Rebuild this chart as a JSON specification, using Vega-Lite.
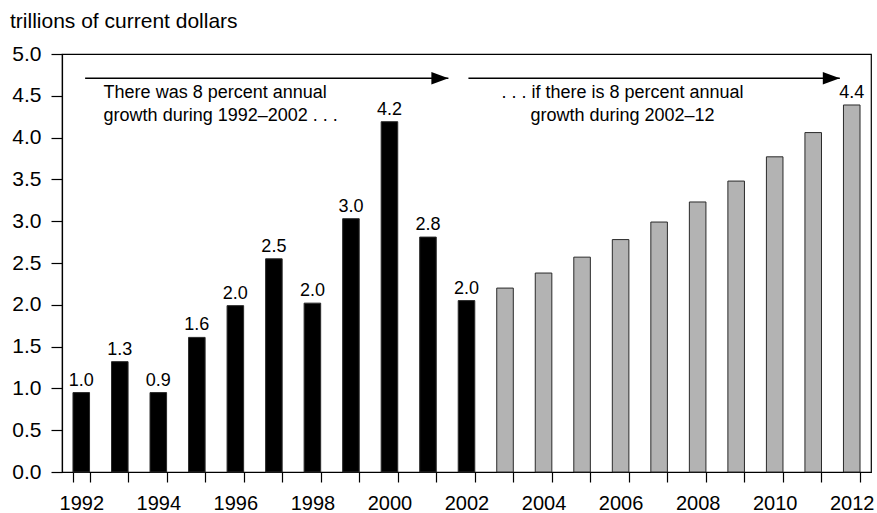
{
  "$schema": "https://vega.github.io/schema/vega-lite/v6.json",
  "width": 809,
  "height": 418,
  "autosize": {"type": "none"},
  "padding": {"left": 62, "top": 54, "right": 6, "bottom": 41},
  "title": {
    "text": "trillions of current dollars",
    "anchor": "start",
    "frame": "group",
    "dx": -52,
    "offset": -6,
    "baseline": "alphabetic",
    "fontSize": 21,
    "fontWeight": "normal",
    "color": "#000000"
  },
  "config": {
    "font": "Liberation Sans",
    "view": {"stroke": "#000000", "strokeWidth": 1.2},
    "axis": {
      "domainColor": "#000000",
      "domainWidth": 1.2,
      "tickColor": "#000000",
      "tickWidth": 1.2,
      "labelColor": "#000000",
      "labelFontSize": 21,
      "grid": false,
      "title": null
    }
  },
  "datasets": {
    "bars": [
      {"year": 1992, "value": 0.95, "period": "actual", "label": "1.0"},
      {"year": 1993, "value": 1.32, "period": "actual", "label": "1.3"},
      {"year": 1994, "value": 0.95, "period": "actual", "label": "0.9"},
      {"year": 1995, "value": 1.61, "period": "actual", "label": "1.6"},
      {"year": 1996, "value": 1.99, "period": "actual", "label": "2.0"},
      {"year": 1997, "value": 2.55, "period": "actual", "label": "2.5"},
      {"year": 1998, "value": 2.02, "period": "actual", "label": "2.0"},
      {"year": 1999, "value": 3.03, "period": "actual", "label": "3.0"},
      {"year": 2000, "value": 4.19, "period": "actual", "label": "4.2"},
      {"year": 2001, "value": 2.81, "period": "actual", "label": "2.8"},
      {"year": 2002, "value": 2.05, "period": "actual", "label": "2.0"},
      {"year": 2003, "value": 2.20, "period": "projected", "label": ""},
      {"year": 2004, "value": 2.38, "period": "projected", "label": ""},
      {"year": 2005, "value": 2.57, "period": "projected", "label": ""},
      {"year": 2006, "value": 2.78, "period": "projected", "label": ""},
      {"year": 2007, "value": 2.99, "period": "projected", "label": ""},
      {"year": 2008, "value": 3.23, "period": "projected", "label": ""},
      {"year": 2009, "value": 3.48, "period": "projected", "label": ""},
      {"year": 2010, "value": 3.77, "period": "projected", "label": ""},
      {"year": 2011, "value": 4.06, "period": "projected", "label": ""},
      {"year": 2012, "value": 4.39, "period": "projected", "label": "4.4"}
    ],
    "arrows": [
      {"start": 1992.10, "end": 2001.53, "level": 4.71},
      {"start": 2002.05, "end": 2011.69, "level": 4.71}
    ],
    "notes": [
      {"pos": 1992.58, "level": 4.47, "text": "There was 8 percent annual\ngrowth during 1992\u20132002 . . .", "side": "left"},
      {"pos": 2006.05, "level": 4.47, "text": ". . . if there is 8 percent annual\ngrowth during 2002\u201312", "side": "center"}
    ]
  },
  "layer": [
    {
      "data": {"name": "bars"},
      "layer": [
        {
          "mark": {"type": "bar", "stroke": "#2a2a2a", "strokeWidth": 1},
          "encoding": {
            "x": {
              "field": "year",
              "type": "ordinal",
              "scale": {"paddingInner": 0.57, "paddingOuter": 0.285},
              "axis": {
                "labelAngle": 0,
                "tickBand": "extent",
                "tickSize": 10,
                "labelPadding": 11,
                "labelFontSize": 20,
                "labelExpr": "datum.value % 2 == 0 ? datum.label : ''"
              }
            },
            "y": {
              "field": "value",
              "type": "quantitative",
              "scale": {"domain": [0, 5], "nice": false},
              "axis": {
                "values": [0, 0.5, 1, 1.5, 2, 2.5, 3, 3.5, 4, 4.5, 5],
                "format": ".1f",
                "tickSize": 11,
                "labelPadding": 10
              }
            },
            "fill": {
              "field": "period",
              "type": "nominal",
              "scale": {"domain": ["actual", "projected"], "range": ["#000000", "#b3b3b3"]},
              "legend": null
            }
          }
        },
        {
          "mark": {"type": "text", "baseline": "alphabetic", "dy": -7, "fontSize": 18, "color": "#000000"},
          "encoding": {
            "x": {"field": "year", "type": "ordinal"},
            "y": {"field": "value", "type": "quantitative"},
            "text": {"field": "label"}
          }
        }
      ]
    },
    {
      "data": {"name": "arrows"},
      "layer": [
        {
          "mark": {"type": "rule", "color": "#000000", "strokeWidth": 1.5},
          "encoding": {
            "x": {"field": "start", "type": "quantitative", "scale": {"domain": [1991.5, 2012.5], "nice": false, "zero": false}, "axis": null},
            "x2": {"field": "end"},
            "y": {"field": "level", "type": "quantitative"}
          }
        },
        {
          "mark": {"type": "point", "shape": "M-2,-0.74L0,0L-2,0.74Z", "size": 289, "filled": true, "color": "#000000", "opacity": 1},
          "encoding": {
            "x": {"field": "end", "type": "quantitative", "scale": {"domain": [1991.5, 2012.5], "nice": false, "zero": false}, "axis": null},
            "y": {"field": "level", "type": "quantitative"}
          }
        }
      ]
    },
    {
      "data": {"name": "notes"},
      "layer": [
        {
          "transform": [{"filter": "datum.side == 'left'"}],
          "mark": {"type": "text", "align": "left", "baseline": "alphabetic", "fontSize": 18, "lineHeight": 23, "lineBreak": "\n", "color": "#000000"},
          "encoding": {
            "x": {"field": "pos", "type": "quantitative", "scale": {"domain": [1991.5, 2012.5], "nice": false, "zero": false}, "axis": null},
            "y": {"field": "level", "type": "quantitative"},
            "text": {"field": "text"}
          }
        },
        {
          "transform": [{"filter": "datum.side == 'center'"}],
          "mark": {"type": "text", "align": "center", "baseline": "alphabetic", "fontSize": 18, "lineHeight": 23, "lineBreak": "\n", "color": "#000000"},
          "encoding": {
            "x": {"field": "pos", "type": "quantitative", "scale": {"domain": [1991.5, 2012.5], "nice": false, "zero": false}, "axis": null},
            "y": {"field": "level", "type": "quantitative"},
            "text": {"field": "text"}
          }
        }
      ]
    }
  ],
  "resolve": {"scale": {"x": "independent"}}
}
